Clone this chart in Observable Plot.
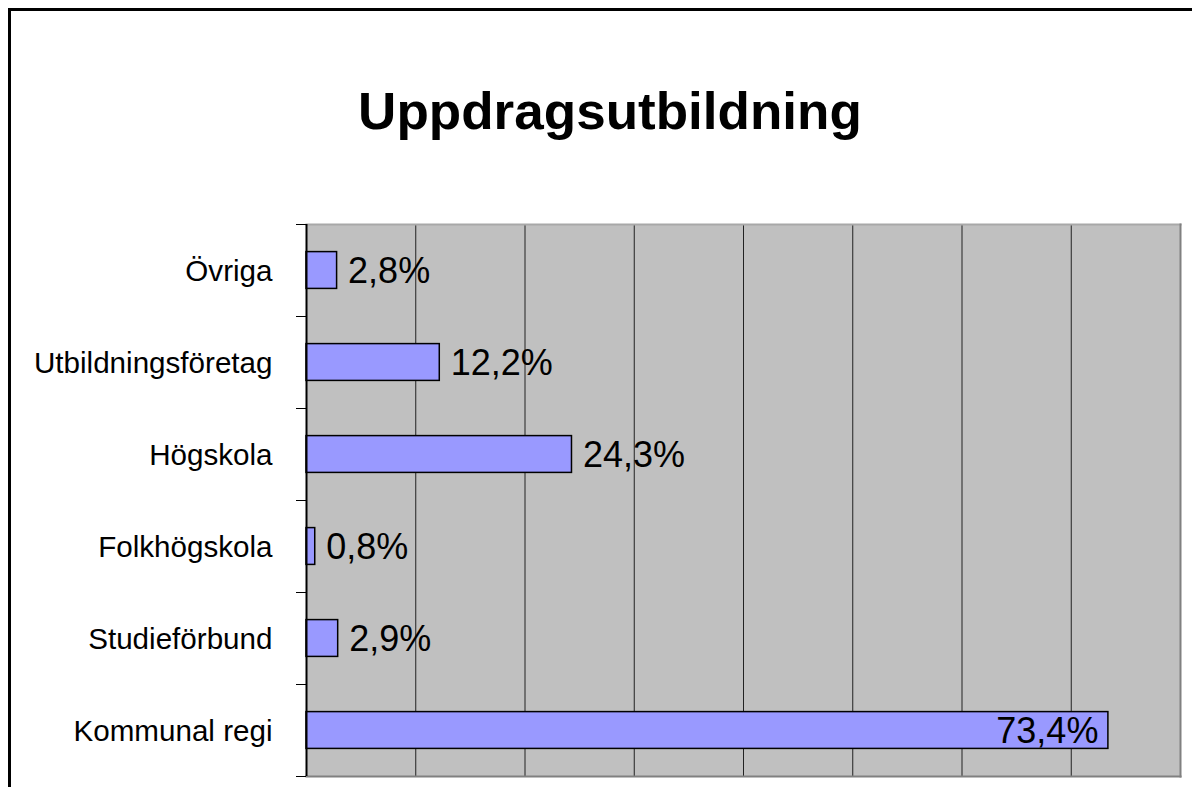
<!DOCTYPE html>
<html><head><meta charset="utf-8">
<script src="https://cdn.jsdelivr.net/npm/d3@7"></script>
<script src="https://cdn.jsdelivr.net/npm/@observablehq/plot@0.6"></script>
<style>
body{margin:0;background:#fff;overflow:hidden;width:1192px;height:787px;position:relative;font-family:"Liberation Sans",Arial,sans-serif}
#frame{position:absolute;left:8px;top:8px;width:1300px;height:900px;border-left:3px solid #000;border-top:3px solid #000}
#title{position:absolute;left:0;width:1220px;top:85px;text-align:center;font-size:52px;line-height:52px;font-weight:bold;transform:scaleX(1.02);transform-origin:610px 50%;color:#000}
#chart{position:absolute;left:0;top:160px}
</style></head><body>
<div id="frame"></div>
<div id="title">Uppdragsutbildning</div>
<div id="chart"></div>
<script>
// Categories listed from bottom to top
const categories = ["Kommunal regi", "Studieförbund", "Folkhögskola", "Högskola", "Utbildningsföretag", "Övriga"];
const values = [73.4, 2.9, 0.8, 24.3, 12.2, 2.8];
const valueLabels = ["73,4%", "2,9%", "0,8%", "24,3%", "12,2%", "2,8%"];
const xTicks = [0, 10, 20, 30, 40, 50, 60, 70, 80];

const rows = categories.map((c, i) => ({category: c, value: values[i], label: valueLabels[i], pos: i}));
const font = '"Liberation Sans", Arial, sans-serif';

const plot = Plot.plot({
  width: 1192, height: 627,
  marginLeft: 306, marginRight: 12, marginTop: 64, marginBottom: 11,
  style: {fontFamily: font, background: "transparent", color: "#000"},
  x: {domain: [xTicks[0], xTicks[xTicks.length - 1]], axis: null},
  y: {domain: [0, categories.length], axis: null},
  marks: [
    Plot.frame({fill: "#C0C0C0", stroke: null}),
    Plot.ruleX(xTicks.slice(1, -1), {stroke: "#222", strokeWidth: 1}),
    Plot.frame({anchor: "top", stroke: "#A8A8A8", strokeWidth: 2}),
    Plot.frame({anchor: "right", stroke: "#808080", strokeWidth: 2}),
    Plot.frame({anchor: "bottom", stroke: "#808080", strokeWidth: 2}),
    Plot.rect(rows, {x1: 0, x2: "value", y1: d => d.pos + 0.3, y2: d => d.pos + 0.7,
      fill: "#9999FF", stroke: "#000", strokeWidth: 1.5}),
    Plot.ruleX([0], {stroke: "#000", strokeWidth: 2}),
    Plot.axisY({ticks: d3.range(0, categories.length + 1), tickSize: 10, tickFormat: () => "", stroke: "#000"}),
    Plot.text(rows, {x: 0, y: d => d.pos + 0.5, text: "category", textAnchor: "end", dx: -34, dy: 1, fontSize: 29.6, fill: "#000"}),
    Plot.text(rows.filter(d => d.value < 60), {x: "value", y: d => d.pos + 0.5, text: "label",
      textAnchor: "start", dx: 11, dy: 1, fontSize: 36, fill: "#000"}),
    Plot.text(rows.filter(d => d.value >= 60), {x: "value", y: d => d.pos + 0.5, text: "label",
      textAnchor: "end", dx: -10, dy: 1, fontSize: 36, fill: "#000"})
  ]
});
document.getElementById("chart").appendChild(plot);
</script>
</body></html>
